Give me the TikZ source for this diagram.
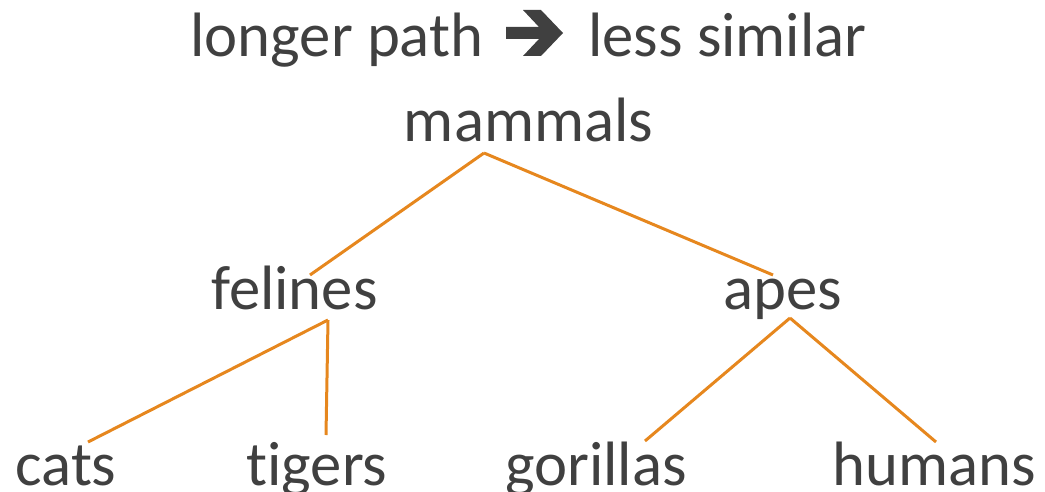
\documentclass[tikz,border=0pt]{standalone}
\usepackage{fontspec}
\setmainfont[Ligatures={NoCommon}]{Carlito}
\definecolor{txt}{RGB}{64,64,64}
\definecolor{edge}{RGB}{230,135,30}
\begin{document}
\begin{tikzpicture}[x=0.75pt,y=-0.75pt,
  lbl/.style={anchor=base,inner sep=0pt,text=txt,font=\fontsize{47}{56}\selectfont},
  link/.style={draw=edge,line width=2.25pt}]
\useasboundingbox (0,0) rectangle (1045,492);
\node[lbl] (t1) at (337,57) {longer path};
\node[lbl] (t2) at (727.5,57) {less similar};
\fill[txt] (506,27) -- (539,27) -- (523,10) -- (541,10) -- (563,33) -- (541,56) -- (523,56) -- (539,39) -- (506,39) -- cycle;
\node[lbl] (mammals) at (528.5,141) {mammals};
\node[lbl] (felines) at (294.5,309) {felines};
\node[lbl] (apes) at (782.5,309) {apes};
\node[lbl] (cats) at (66,485) {cats};
\node[lbl] (tigers) at (317,485) {tigers};
\node[lbl] (gorillas) at (596,485) {gorillas};
\node[lbl] (humans) at (934,485) {humans};
\coordinate (m0) at (484,153);
\coordinate (f1) at (310,275);
\coordinate (a1) at (773,275);
\coordinate (f0) at (328,320);
\coordinate (c1) at (88,442);
\coordinate (t1e) at (326,435);
\coordinate (a0) at (790,318);
\coordinate (g1) at (645,441);
\coordinate (h1) at (936,442);
\draw[link] (m0) -- (f1);
\draw[link] (m0) -- (a1);
\draw[link] (f0) -- (c1);
\draw[link] (f0) -- (t1e);
\draw[link] (a0) -- (g1);
\draw[link] (a0) -- (h1);
\end{tikzpicture}
\end{document}
